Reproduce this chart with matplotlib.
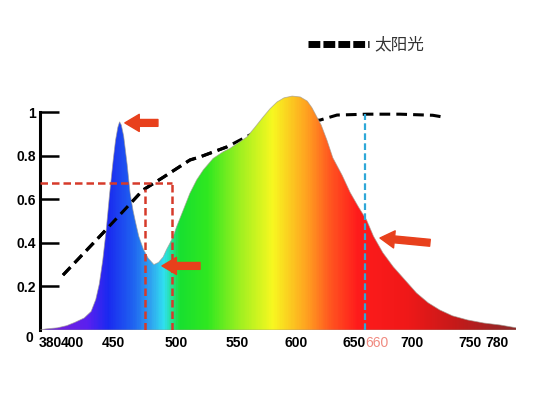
#!/usr/bin/env python3
"""LED spectrum vs sunlight, drawn with a wavelength colour gradient."""
import numpy as np
import matplotlib
matplotlib.use("Agg")
import matplotlib.pyplot as plt
from matplotlib.colors import LinearSegmentedColormap
from matplotlib.lines import Line2D
from matplotlib.patches import Polygon
from matplotlib.transforms import ScaledTranslation

# LED spectrum (wavelength nm, relative intensity)
spec_wl = [380, 385, 395, 403, 410, 418, 424, 428, 431, 434, 437, 440, 443, 445,
           447, 448.5, 450, 452, 455, 457.5, 460, 462, 465, 469, 473, 478, 482,
           486, 489, 492, 494.7, 497.6, 503.3, 509, 514.8, 520.5, 529, 537.8,
           543.5, 551, 558, 565, 572, 578, 584, 590, 597, 604, 610, 614, 618,
           622, 627, 632, 640, 647, 654, 661, 667, 675, 684, 694, 704, 714, 724,
           735, 748, 762, 776, 790]
spec_val = [0.0, 0.005, 0.01, 0.02, 0.035, 0.055, 0.085, 0.14, 0.21, 0.32, 0.46,
            0.63, 0.78, 0.87, 0.93, 0.955, 0.94, 0.89, 0.76, 0.63, 0.55, 0.50,
            0.43, 0.37, 0.33, 0.30, 0.31, 0.335, 0.37, 0.40, 0.43, 0.474, 0.55,
            0.627, 0.688, 0.734, 0.787, 0.818, 0.833, 0.86, 0.885, 0.93, 0.977,
            1.015, 1.046, 1.065, 1.073, 1.069, 1.05, 1.02, 0.98, 0.94, 0.87,
            0.79, 0.71, 0.63, 0.565, 0.505, 0.43, 0.355, 0.29, 0.23, 0.17,
            0.125, 0.092, 0.065, 0.046, 0.032, 0.023, 0.01]

# sunlight reference curve
sun_wl = [399.8, 434.2, 468.6, 485.9, 509.1, 517.7, 540.9, 560.7, 586.5, 603.8,
          621, 635.6, 661.4, 689.8, 718, 726.8]
sun_val = [0.252, 0.445, 0.642, 0.70, 0.78, 0.794, 0.84, 0.895, 0.93, 0.954,
           0.963, 0.986, 0.99, 0.99, 0.985, 0.977]

x_ticks = [380, 400, 450, 500, 550, 600, 650, 660, 700, 750, 780]
y_ticks = [0, 0.2, 0.4, 0.6, 0.8, 1]
highlight_wl = 660
box_top = 0.675
box_right = 493.5
box_inner = 470
# (tip, tail) of the red pointer arrows
arrows = [((453, 0.95), (481.5, 0.95)),
          ((485, 0.294), (517.7, 0.294)),
          ((672.6, 0.422), (715.6, 0.40))]

# gradient stops for the spectrum fill
grad_wl = [380, 397, 420, 438, 460, 475, 486, 500, 524, 552, 580, 610, 630,
           653, 696, 739, 790]
grad_col = ["#6a3ad8", "#7020e0", "#5a20f0", "#1a2af0", "#2065f0", "#30a5f0",
            "#30e0f0", "#18e030", "#30e820", "#a0f020", "#f8f820", "#ffa020",
            "#ff5520", "#ff1c1c", "#f01818", "#c41a1a", "#8c2a2a"]

RED = "#d63a2a"
ARROW = "#e8401c"
BLUE = "#2fa8d8"


def shift(fig, artist, dx_px, dy_px=0):
    """Nudge a text by a few pixels (the source axis is not quite linear)."""
    off = ScaledTranslation(dx_px / fig.dpi, dy_px / fig.dpi, fig.dpi_scale_trans)
    artist.set_transform(artist.get_transform() + off)


def main() -> None:
    fig = plt.figure(figsize=(5.36, 3.96), dpi=100)
    xmin, xmax, ytop = 380, 790, 1.1
    ax = fig.add_axes([40 / 536, 66 / 396, 476.4 / 536, 239.8 / 396])
    ax.set_xlim(xmin, xmax)
    ax.set_ylim(0, ytop)

    # spectrum: gradient image clipped to the curve
    stops = [(w - xmin) / (xmax - xmin) for w in grad_wl]
    cmap = LinearSegmentedColormap.from_list("spec", list(zip(stops, grad_col)))
    grad = np.linspace(0, 1, 600)[None, :]
    im = ax.imshow(grad, cmap=cmap, extent=(xmin, xmax, 0, ytop),
                   aspect="auto", origin="lower", zorder=2)
    verts = np.column_stack([np.r_[spec_wl, spec_wl[::-1]],
                             np.r_[spec_val, np.zeros(len(spec_wl))]])
    poly = Polygon(verts, closed=True, fc="none", ec="#a09a90", lw=0.6,
                   alpha=0.7, zorder=3)
    ax.add_patch(poly)
    im.set_clip_path(poly)

    # sunlight curve: passes behind the big hump, over the blue peak
    sun_kw = dict(color="black", lw=2.2, dashes=(3.5, 2.0))
    ax.plot(sun_wl, sun_val, zorder=1, **sun_kw)
    n_front = sum(1 for w in sun_wl if w <= 545)
    ax.plot(sun_wl[:n_front], sun_val[:n_front], zorder=4, **sun_kw)

    # red dashed box around the cyan valley
    red_kw = dict(color=RED, lw=1.8, dashes=(3, 1.6), zorder=5)
    ax.plot([xmin, box_right], [box_top, box_top], **red_kw)
    ax.plot([box_right, box_right], [0, box_top], **red_kw)
    inner_top = np.interp(box_inner, sun_wl, sun_val)
    ax.plot([box_inner, box_inner], [0, inner_top], **red_kw)

    # blue marker at 660 nm
    ax.plot([highlight_wl, highlight_wl],
            [0, np.interp(highlight_wl, sun_wl, sun_val)],
            color=BLUE, lw=1.6, dashes=(3, 1.5), zorder=5)

    for tip, tail in arrows:
        ax.annotate("", xy=tip, xytext=tail, zorder=6,
                    arrowprops=dict(arrowstyle="simple,head_length=0.8,head_width=0.95,tail_width=0.38",
                                    color=ARROW, mutation_scale=13,
                                    shrinkA=0, shrinkB=0))

    # axes styling
    for side in ("top", "right", "bottom"):
        ax.spines[side].set_visible(False)
    ax.spines["left"].set_linewidth(2.2)
    ax.spines["left"].set_bounds(0, 1)
    tick_font = dict(family="Liberation Sans", weight="bold", size=10)
    ax.set_yticks(y_ticks)
    ax.set_yticklabels([f"{v:g}" for v in y_ticks], **tick_font)
    ax.tick_params(axis="y", direction="in", length=14, width=1.8, pad=3)
    ax.yaxis.get_major_ticks()[0].tick1line.set_visible(False)
    shift(fig, ax.get_yticklabels()[0], -3, -7)

    ax.set_xticks(x_ticks)
    ax.set_xticklabels([str(v) for v in x_ticks], **tick_font)
    ax.tick_params(axis="x", length=0, pad=4)
    label_shift = {380: 10, 400: 9, 450: -8, 500: -3, 660: 12, 780: -8}
    for lbl, v in zip(ax.get_xticklabels(), x_ticks):
        if v == highlight_wl:
            lbl.set_color("#f08a80")
            lbl.set_fontweight("normal")
        if v in label_shift:
            shift(fig, lbl, label_shift[v])

    handle = Line2D([], [], color="black", lw=5, dashes=(1.7, 0.45))
    leg = fig.legend([handle], ["太阳光"], loc="center",
                     bbox_to_anchor=(366 / 536, 1 - 45 / 396), frameon=False,
                     handlelength=3.7, handletextpad=0.3,
                     prop=dict(family=["Noto Sans CJK SC", "DejaVu Sans"], size=12))
    for t in leg.get_texts():
        t.set_color("#333333")

    fig.savefig("out.png", dpi=100)
    plt.close(fig)


if __name__ == "__main__":
    main()
